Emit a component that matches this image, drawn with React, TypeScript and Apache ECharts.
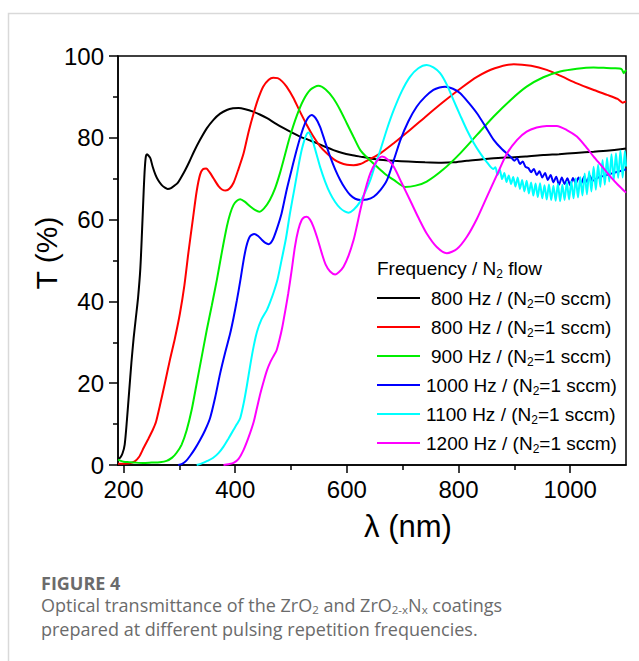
import React, { useEffect, useRef } from 'react';
import * as echarts from 'echarts';

const FONT = "'Liberation Sans', Arial, Helvetica, sans-serif";
const CAPTION_FONT = "'Open Sans', 'Noto Sans', sans-serif";

// Axis ticks (wavelength, nm)
const wavelengthTicks = [200, 400, 600, 800, 1000];
const wavelengthMinorTicks = [300, 500, 700, 900];

// Legend entries
const frequencies = ['800', '800', '900', '1000', '1100', '1200'];
const n2Flows = [0, 1, 1, 1, 1, 1];
const colors = ['#000000', '#ff0000', '#00ee00', '#0000ff', '#00ffff', '#ff00ff'];

// Caption lines
const captionLines = [
  'Optical transmittance of the ZrO{s|2} and ZrO{s|2-x}N{s|x} coatings',
  'prepared at different pulsing repetition frequencies.',
];

// Transmittance spectra: [wavelength (nm), T (%)]
const t800N0: [number, number][] = [
  [190, 1.5], [194, 1.8], [198, 2.8], [202, 5], [206, 11], [210, 18], [214, 25], [218, 31], [222, 36],
  [226, 41], [230, 48], [233, 57], [236, 67], [238, 72.5], [240, 75.5], [242, 76], [245, 75.6], [248, 75],
  [252, 73], [257, 71], [262, 69.6], [268, 68.5], [274, 67.8], [279, 67.5], [285, 67.7], [291, 68.3],
  [297, 69], [303, 70.3], [310, 72], [318, 74.2], [326, 76.6], [337, 79.5], [349, 82.3], [361, 84.4],
  [373, 85.9], [385, 86.8], [396, 87.2], [406, 87.3], [418, 87], [432, 86.4], [444, 85.7], [457, 84.8],
  [471, 83.6], [486, 82.4], [501, 81.3], [516, 80.3], [531, 79.5], [546, 78.7], [561, 77.8], [576, 77],
  [592, 76.3], [608, 75.8], [624, 75.4], [645, 74.9], [665, 74.6], [684, 74.4], [710, 74.2], [740, 74.0],
  [770, 73.9], [790, 74], [815, 74.4], [840, 74.7], [863, 75], [890, 75.2], [920, 75.4], [952, 75.8],
  [980, 76], [1010, 76.3], [1042, 76.6], [1070, 76.9], [1090, 77.2], [1100, 77.4],
];

const t800N1: [number, number][] = [
  [190, 0.3], [200, 0.3], [210, 0.4], [220, 0.9], [228, 2], [236, 4.2], [244, 6.3], [252, 8.5], [258, 10.5],
  [265, 14.5], [274, 20], [283, 25.7], [292, 31], [301, 37.1], [309, 44], [316, 51.8], [324, 60], [331, 67],
  [337, 71], [342, 72.3], [348, 72.5], [354, 71.6], [361, 70.1], [370, 68.2], [377, 67.3], [383, 67.1],
  [390, 67.6], [397, 69], [405, 72], [415, 76.2], [424, 81.5], [433, 86], [441, 89.5], [450, 92.5],
  [460, 94.2], [468, 94.7], [476, 94.6], [484, 93.8], [492, 92.5], [504, 89.8], [516, 86.4], [528, 83.2],
  [540, 80.3], [552, 77.9], [564, 76.2], [576, 74.8], [588, 73.9], [600, 73.4], [612, 73.3], [624, 73.6],
  [640, 74.7], [660, 76.2], [685, 78.8], [713, 81.9], [743, 85.4], [773, 88.8], [803, 92], [833, 94.9],
  [865, 97], [899, 98], [930, 97.6], [958, 96.6], [985, 95], [1012, 93.3], [1040, 91.8], [1066, 90.5],
  [1085, 89.5], [1094, 88.6], [1100, 88.9],
];

const t900N1: [number, number][] = [
  [190, 1.3], [195, 1.0], [200, 0.8], [210, 0.7], [220, 0.6], [235, 0.5], [250, 0.6], [265, 0.7], [277, 1.0],
  [287, 1.8], [295, 3], [304, 5], [313, 8.5], [322, 13.5], [331, 20], [340, 26.5], [349, 33], [358, 39],
  [367, 45.2], [376, 52], [385, 58.3], [391, 61.5], [397, 63.6], [403, 64.6], [409, 65], [417, 64.4],
  [427, 63.2], [436, 62.3], [443, 61.9], [452, 62.8], [462, 64.8], [471, 67.5], [480, 71.3], [489, 75.8],
  [498, 80.3], [510, 85.3], [522, 89.2], [535, 91.8], [549, 92.7], [562, 91.8], [576, 89.6], [588, 86.8],
  [600, 83.5], [612, 80.2], [624, 77], [639, 74.8], [654, 72.9], [669, 71.1], [684, 69.7], [704, 68],
  [723, 68.3], [743, 69.3], [773, 72.3], [803, 76.2], [833, 80.7], [863, 85.2], [893, 89.2], [922, 92.5],
  [952, 94.8], [982, 96.2], [1012, 96.9], [1042, 97.2], [1060, 97.1], [1078, 97.0], [1092, 96.8],
  [1096, 95.8], [1100, 96.6],
];

const t1000N1: [number, number][] = [
  [298, 0], [305, 0.3], [312, 1], [319, 2.2], [328, 4], [337, 6.1], [346, 8.5], [355, 11.5], [364, 16.5],
  [373, 22.4], [382, 27.5], [391, 32.2], [397, 36], [403, 40.3], [409, 45], [415, 50.1], [420, 53.5],
  [426, 55.8], [434, 56.5], [441, 56], [448, 55], [454, 54.3], [460, 54], [467, 55], [474, 57.5],
  [483, 61.5], [492, 67.2], [501, 72.2], [510, 77], [518, 80.8], [525, 83.5], [531, 85], [537, 85.6],
  [544, 84.8], [552, 82.7], [561, 79], [570, 75.4], [579, 72.3], [588, 69.7], [597, 67.6], [606, 66],
  [615, 65.1], [624, 64.8], [636, 64.9], [648, 65.6], [660, 67.2], [672, 69.7], [684, 74.5], [696, 79.5],
  [710, 84], [725, 87.6], [740, 90], [755, 91.7], [766, 92.3], [776, 92.5], [790, 92], [803, 90.9],
  [818, 88.6], [833, 86], [848, 82.8], [863, 79.5], [878, 77.2], [893, 75.4], [900, 74.4], [905, 75],
  [910, 73.6], [915, 74.2], [920, 72.9], [925, 72.6], [930, 71.6], [935, 72.4], [940, 70.9], [945, 71.8],
  [950, 70.3], [955, 71.4], [960, 69.7], [965, 70.9], [970, 69.1], [975, 70.5], [980, 68.5], [985, 70.3],
  [990, 68.7], [995, 70.1], [1000, 68.4], [1005, 70.2], [1010, 68.8], [1015, 70.3], [1020, 68.9],
  [1025, 70.5], [1030, 69.2], [1035, 70.8], [1040, 69.5], [1050, 70.3], [1060, 70.7], [1070, 71.1],
  [1080, 71.5], [1090, 71.9], [1100, 72.3],
];

const t1100N1: [number, number][] = [
  [331, 0], [340, 0.4], [350, 1], [360, 1.7], [370, 2.9], [379, 4.5], [388, 6.5], [397, 8.6], [403, 10],
  [409, 11.5], [415, 15], [421, 19.5], [427, 24.5], [433, 29], [439, 32.6], [447, 35.6], [457, 38],
  [463, 40], [469, 42.3], [476, 45.5], [483, 50.1], [491, 55.5], [498, 61.5], [506, 67.5], [513, 72.9],
  [519, 77], [524, 79.5], [528, 80.9], [531, 81.3], [535, 80.6], [540, 78.7], [546, 75.8], [552, 72.9],
  [561, 69.3], [570, 66.4], [579, 64.3], [588, 62.8], [596, 62], [603, 61.7], [612, 62.4], [624, 64.4],
  [633, 66.8], [642, 69.7], [651, 73.5], [660, 77], [672, 82.2], [684, 86.8], [698, 91.3], [713, 94.9],
  [728, 97], [743, 97.8], [755, 97.2], [767, 95.8], [779, 93], [791, 89.2], [803, 85.5], [815, 81.9],
  [827, 78.8], [839, 76.2], [851, 74], [862, 72.4], [866, 72.8], [870, 70.9], [874, 72.1], [878, 69.9],
  [882, 71.4], [886, 69.2], [890, 70.8], [894, 68.7], [898, 70.4], [902, 68.1], [906, 70.3], [910, 67.5],
  [914, 69.7], [918, 66.9], [922, 69.5], [926, 66.4], [930, 69.1], [934, 65.9], [938, 68.8], [942, 65.5],
  [946, 68.9], [950, 65.2], [954, 68.4], [958, 64.9], [962, 68.6], [966, 64.8], [970, 68.3], [974, 64.6],
  [978, 68.7], [982, 64.5], [986, 68.5], [990, 64.8], [994, 69.2], [998, 64.9], [1002, 69.3],
  [1006, 65.2], [1010, 70.1], [1014, 65.4], [1018, 70.4], [1022, 65.9], [1026, 71.3], [1030, 66.2],
  [1034, 71.8], [1038, 66.9], [1042, 72.9], [1046, 67.3], [1050, 73.4], [1054, 68], [1058, 74.6],
  [1062, 68.5], [1066, 75.1], [1070, 69.3], [1074, 76], [1078, 69.6], [1082, 76.2], [1086, 70.2],
  [1090, 76.9], [1094, 70.3], [1098, 76.8], [1100, 73],
];

const t1200N1: [number, number][] = [
  [379, 0], [388, 0.2], [397, 0.5], [406, 1.5], [415, 3.7], [424, 6.8], [433, 10.5], [439, 14], [445, 17.5],
  [451, 20.5], [457, 23.2], [463, 25.2], [468, 26.5], [474, 28], [479, 30.5], [484, 33.5], [490, 38],
  [495, 42], [501, 47.5], [507, 53.4], [513, 57.5], [519, 59.9], [524, 60.6], [528, 60.7], [534, 60],
  [540, 58.3], [547, 55.5], [555, 51.8], [562, 49], [570, 47.3], [579, 46.6], [586, 47.2], [594, 48.5],
  [603, 51.2], [612, 55], [618, 58.5], [624, 62.3], [633, 67.3], [642, 71.3], [652, 74], [663, 75.4],
  [673, 74.7], [684, 72.9], [698, 69], [713, 64.8], [728, 60.5], [743, 56.6], [761, 53.3], [779, 51.8],
  [797, 52.8], [815, 55.8], [833, 60.2], [851, 65.6], [869, 71], [887, 76.2], [905, 79.5], [922, 81.5],
  [940, 82.5], [958, 82.9], [976, 82.9], [994, 81.9], [1012, 80.3], [1027, 78], [1042, 75.4], [1057, 73],
  [1072, 70.5], [1085, 68.6], [1100, 66.6],
];

const spectra = [t800N0, t800N1, t900N1, t1000N1, t1100N1, t1200N1];

// Legend layout
const legendLineX0 = 377;
const legendLineX1 = 420;
const legendTextX = 426;
const legendTitleY = 268;
const legendRowY0 = 298;
const legendRowStep = 29;

const subStyle = { fontSize: 12, lineHeight: 12, verticalAlign: 'bottom', fontFamily: FONT, fill: '#000' };

function buildLegend() {
  const items: any[] = [
    {
      type: 'text',
      x: legendLineX0,
      y: legendTitleY,
      style: {
        text: 'Frequency / N{sub|2} flow',
        fontSize: 19,
        fontFamily: FONT,
        fill: '#000',
        align: 'left',
        verticalAlign: 'middle',
        lineHeight: 24,
        rich: { sub: subStyle },
      },
    },
  ];
  frequencies.forEach((f, i) => {
    const y = legendRowY0 + i * legendRowStep;
    items.push({
      type: 'line',
      shape: { x1: legendLineX0, y1: y, x2: legendLineX1, y2: y },
      style: { stroke: colors[i], lineWidth: 2 },
    });
    items.push({
      type: 'text',
      x: legendTextX + (f.length < 4 ? 5 : 0),
      y,
      style: {
        text: `${f} Hz / (N{sub|2}=${n2Flows[i]} sccm)`,
        fontSize: 19,
        fontFamily: FONT,
        fill: '#000',
        align: 'left',
        verticalAlign: 'middle',
        lineHeight: 24,
        rich: { sub: subStyle },
      },
    });
  });
  return items;
}

const captionColor = '#6b6b6b';
const capSub = { fontSize: 11.5, lineHeight: 11, verticalAlign: 'bottom', fontFamily: CAPTION_FONT, fill: captionColor };

function buildCaption() {
  const items: any[] = [
    {
      type: 'text',
      x: 41,
      y: 583,
      style: {
        text: 'FIGURE 4',
        fontSize: 18,
        fontWeight: 'bold',
        fontFamily: CAPTION_FONT,
        fill: captionColor,
        align: 'left',
        verticalAlign: 'middle',
      },
    },
  ];
  captionLines.forEach((line, i) => {
    items.push({
      type: 'text',
      x: 41,
      y: 605 + i * 24,
      style: {
        text: line,
        fontSize: 18,
        fontFamily: CAPTION_FONT,
        fill: captionColor,
        align: 'left',
        verticalAlign: 'middle',
        lineHeight: 20,
        rich: { s: capSub },
      },
    });
  });
  return items;
}

function buildOption() {
  const tickLine = { color: '#000', width: 1.5 };
  return {
    animation: false,
    backgroundColor: '#ffffff',
    grid: {
      left: 118,
      top: 56,
      right: 13,
      bottom: 196,
      show: true,
      borderColor: '#000',
      borderWidth: 1.5,
      backgroundColor: 'transparent',
      containLabel: false,
    },
    xAxis: [
      {
        type: 'value',
        min: 190,
        max: 1100,
        position: 'bottom',
        axisLine: { show: true, onZero: false, lineStyle: tickLine },
        axisTick: { show: true, inside: false, length: 8, customValues: wavelengthTicks, lineStyle: tickLine },
        axisLabel: {
          customValues: wavelengthTicks,
          formatter: (v: number) => String(v),
          fontSize: 24,
          color: '#000',
          fontFamily: FONT,
          margin: 12,
        },
        splitLine: { show: false },
      },
      {
        type: 'value',
        min: 190,
        max: 1100,
        position: 'bottom',
        axisLine: { show: false, onZero: false },
        axisTick: { show: true, inside: false, length: 5, customValues: wavelengthMinorTicks, lineStyle: tickLine },
        axisLabel: { show: false },
        splitLine: { show: false },
      },
    ],
    yAxis: {
      type: 'value',
      min: 0,
      max: 100,
      interval: 20,
      axisLine: { show: true, lineStyle: tickLine },
      axisTick: { show: true, inside: false, length: 9, lineStyle: tickLine },
      minorTick: { show: true, splitNumber: 2, length: 5, lineStyle: tickLine },
      axisLabel: { fontSize: 24, color: '#000', fontFamily: FONT, margin: 14 },
      splitLine: { show: false },
      minorSplitLine: { show: false },
    },
    series: spectra.map((data, i) => ({
      type: 'line',
      name: `${frequencies[i]} Hz / (N2=${n2Flows[i]} sccm)`,
      xAxisIndex: 0,
      data,
      showSymbol: false,
      symbol: 'none',
      smooth: 0.25,
      lineStyle: { color: colors[i], width: 2 },
      itemStyle: { color: colors[i] },
      z: 2 + i,
    })),
    graphic: [
      {
        type: 'polyline',
        shape: { points: [[8.5, 661], [8.5, 13.5], [639, 13.5]] },
        style: { stroke: '#d9d9d9', lineWidth: 1.5, fill: 'none' },
      },
      {
        type: 'text',
        x: 46,
        y: 253,
        rotation: Math.PI / 2,
        style: { text: 'T (%)', fontSize: 30, fontFamily: FONT, fill: '#000', align: 'center', verticalAlign: 'middle' },
      },
      {
        type: 'text',
        x: 408,
        y: 526,
        style: { text: 'λ (nm)', fontSize: 31, fontFamily: FONT, fill: '#000', align: 'center', verticalAlign: 'middle' },
      },
      ...buildLegend(),
      ...buildCaption(),
    ],
  };
}

export default function App() {
  const ref = useRef<HTMLDivElement>(null);
  useEffect(() => {
    if (!ref.current) return;
    const chart = echarts.init(ref.current, null, { renderer: 'svg' });
    chart.setOption(buildOption() as any);
    return () => chart.dispose();
  }, []);
  return (
    <div
      ref={ref}
      style={{ position: 'fixed', left: 0, top: 0, width: 639, height: 661, background: '#fff' }}
    />
  );
}
